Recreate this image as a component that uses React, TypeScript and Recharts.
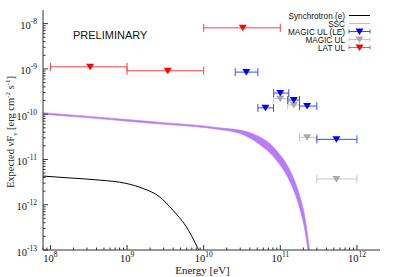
import React from 'react';
import { ComposedChart, XAxis, YAxis, Line, Area, Scatter, ErrorBar, Legend } from 'recharts';

const X_DOMAIN = [8e7, 2e12];
const Y_DOMAIN = [1e-13, 2e-8];

// Synchrotron (e)
const SYN_E = [8e7, 1.6e8, 4.4e8, 9.7e8, 1.6e9, 2.65e9, 3.95e9, 5.9e9, 8e9, 8.6e9, 9.5e9];
const SYN_F = [4.3e-12, 3.95e-12, 3.5e-12, 2.96e-12, 2.3e-12, 1.5e-12, 7.6e-13, 3.3e-13, 1.29e-13, 1.0e-13, 6e-14];

// SSC band (lower / upper edge)
const SSC_E = [8e7, 3e8, 1e9, 3e9, 1e10, 1.6e10, 2.93e10, 3.96e10, 5.35e10, 7.22e10, 9.77e10, 1.19e11, 1.46e11, 1.78e11, 2.07e11, 2.36e11, 2.5e11];
const SSC_LO = [1.0e-10, 8.4e-11, 7.0e-11, 6.0e-11, 5.1e-11, 4.6e-11, 3.77e-11, 3.01e-11, 2.15e-11, 1.43e-11, 7.8e-12, 4.7e-12, 2.3e-12, 8.6e-13, 3.0e-13, 7e-14, 3e-14];
const SSC_HI = [1.08e-10, 9.0e-11, 7.6e-11, 6.5e-11, 5.5e-11, 5.0e-11, 4.46e-11, 3.96e-11, 3.17e-11, 2.27e-11, 1.3e-11, 8.2e-12, 4.15e-12, 1.64e-12, 5.9e-13, 1.29e-13, 6e-14];

// MAGIC UL (LE)
const LE_E = [3.6e10, 6.4e10, 1.0e11, 1.5e11, 2.24e11, 5.4e11];
const LE_ELO = [2.58e10, 5.1e10, 8.2e10, 1.25e11, 1.78e11, 3.0e11];
const LE_EHI = [5.1e10, 8.15e10, 1.29e11, 1.78e11, 3.0e11, 1.0e12];
const LE_F = [8.5e-10, 1.38e-10, 2.92e-10, 2.05e-10, 1.51e-10, 2.78e-11];

// MAGIC UL
const MAGIC_E = [1.0e11, 1.5e11, 2.24e11, 5.4e11];
const MAGIC_ELO = [8.2e10, 1.25e11, 1.78e11, 3.0e11];
const MAGIC_EHI = [1.29e11, 1.78e11, 3.0e11, 1.0e12];
const MAGIC_F = [2.2e-10, 1.6e-10, 3.08e-11, 3.7e-12];

// LAT UL
const LAT_E = [3.3e8, 3.4e9, 3.24e10];
const LAT_ELO = [1e8, 1e9, 1e10];
const LAT_EHI = [1e9, 1e10, 1e11];
const LAT_F = [1.11e-9, 9.1e-10, 8.07e-9];

const X_DECADES = [7, 8, 9, 10, 11, 12];
const Y_DECADES = [-13, -12, -11, -10, -9, -8];

const buildTicks = (decades: number[], lo: number, hi: number) => {
    const out: number[] = [];
    decades.forEach(d => {
        for (let m = 1; m <= 9; m++) {
            const v = m * Math.pow(10, d);
            if (v >= lo * 0.9999 && v < hi * 0.9999) out.push(v);
        }
    });
    return out;
};
const X_TICKS = buildTicks(X_DECADES, X_DOMAIN[0], X_DOMAIN[1]);
const Y_TICKS = buildTicks(Y_DECADES, Y_DOMAIN[0], Y_DOMAIN[1]);

const synData = SYN_E.map((e, i) => ({ e, f: SYN_F[i] }));
const sscData = SSC_E.map((e, i) => ({ e, band: [SSC_LO[i], SSC_HI[i]] }));
const ulData = (E: number[], lo: number[], hi: number[], F: number[]) =>
    E.map((e, i) => ({ e, f: F[i], ex: [e - lo[i], hi[i] - e] }));
const leData = ulData(LE_E, LE_ELO, LE_EHI, LE_F);
const magicData = ulData(MAGIC_E, MAGIC_ELO, MAGIC_EHI, MAGIC_F);
const latData = ulData(LAT_E, LAT_ELO, LAT_EHI, LAT_F);

const SERIF = '"Liberation Serif", "DejaVu Serif", serif';
const SANS = '"Liberation Sans", Arial, sans-serif';
const FRAME = '#333';

const exponentOf = (v: number) => Math.round(Math.log10(v));
const isMajor = (v: number) => Math.abs(Math.log10(v) - Math.round(Math.log10(v))) < 1e-6;

const makeTick = (side: 'bottom' | 'top' | 'left' | 'right', withLabel: boolean) => (props: any) => {
    const { x, y, payload } = props;
    const v = payload.value;
    const major = isMajor(v);
    const len = major ? 5 : 2.5;
    let line;
    if (side === 'bottom') line = <line x1={x} y1={y} x2={x} y2={y - len} stroke={FRAME} />;
    else if (side === 'top') line = <line x1={x} y1={y} x2={x} y2={y + len} stroke={FRAME} />;
    else if (side === 'left') line = <line x1={x} y1={y} x2={x + len} y2={y} stroke={FRAME} />;
    else line = <line x1={x} y1={y} x2={x - len} y2={y} stroke={FRAME} />;
    let label = null;
    if (withLabel && major) {
        const exp = exponentOf(v);
        if (side === 'bottom') {
            label = (
                <text x={x} y={y + 11.5} textAnchor="middle" fontSize={10.5} fontFamily={SERIF} fill="#111">
                    10<tspan dy={-5} fontSize={7.5}>{exp}</tspan>
                </text>
            );
        } else {
            label = (
                <text x={x - 6} y={y + 5.5} textAnchor="end" fontSize={10.5} fontFamily={SERIF} fill="#111">
                    10<tspan dy={-5} fontSize={7.5}>{exp}</tspan>
                </text>
            );
        }
    }
    return (
        <g>
            {line}
            {label}
        </g>
    );
};

const triangle = (color: string) => (props: any) => {
    const { cx, cy } = props;
    if (cx == null || cy == null) return <g />;
    return <polygon points={`${cx - 4},${cy - 3} ${cx + 4},${cy - 3} ${cx},${cy + 3.5}`} fill={color} />;
};

const LEGEND_ITEMS = [
    { name: 'Synchrotron (e)', line: '#000', marker: '' },
    { name: 'SSC', line: '#c9b0ff', marker: '' },
    { name: 'MAGIC UL (LE)', line: '#3050ff', marker: '#0000ff' },
    { name: 'MAGIC UL', line: '#c4c4c4', marker: '#aaaaaa' },
    { name: 'LAT UL', line: '#ff5050', marker: '#ff0000' },
];

const renderLegend = () => (
    <svg width={110} height={46}>
        {LEGEND_ITEMS.map((it, i) => {
            const cy = 5.5 + i * 8;
            return (
                <g key={it.name}>
                    <text x={75} y={cy + 3} textAnchor="end" fontSize={8.2} fontFamily={SANS} fill="#111">{it.name}</text>
                    <line x1={79} x2={100} y1={cy} y2={cy} stroke={it.line} strokeWidth={1} />
                    {it.marker && (
                        <g>
                            <line x1={79} x2={79} y1={cy - 2} y2={cy + 2} stroke={it.line} />
                            <line x1={100} x2={100} y1={cy - 2} y2={cy + 2} stroke={it.line} />
                            <polygon points={`${89.5 - 4},${cy - 3} ${89.5 + 4},${cy - 3} ${89.5},${cy + 3.5}`} fill={it.marker} />
                        </g>
                    )}
                </g>
            );
        })}
    </svg>
);

const XTitle = (props: any) => {
    const { viewBox } = props;
    return (
        <text x={viewBox.x + viewBox.width / 2 - 9} y={viewBox.y + 24} textAnchor="middle" fontSize={11} fontFamily={SERIF} fill="#222">
            Energy [eV]
        </text>
    );
};

const YTitle = () => (
    <text transform="translate(14,132) rotate(-90)" textAnchor="middle" fontSize={10.5} fontFamily={SERIF} fill="#222">
        Expected νF<tspan dy={3} fontSize={7}>ν</tspan>
        <tspan dy={-3}> [erg cm</tspan>
        <tspan dy={-4} fontSize={7}>-2</tspan>
        <tspan dy={4}> s</tspan>
        <tspan dy={-4} fontSize={7}>-1</tspan>
        <tspan dy={4}>]</tspan>
    </text>
);

export default function App() {
    return (
        <div style={{ position: 'absolute', left: 0, top: 0, width: 395, height: 277, background: '#fff' }}>
            <ComposedChart width={395} height={277} margin={{ top: 10, right: 15, bottom: 0, left: 0 }}>
                <XAxis
                    dataKey="e" type="number" scale="log" domain={X_DOMAIN} allowDataOverflow
                    ticks={X_TICKS} interval={0} height={27} tickSize={0} tickMargin={0}
                    axisLine={{ stroke: FRAME }} tickLine={false} tick={makeTick('bottom', true)}
                    label={<XTitle />}
                />
                <XAxis
                    xAxisId="top" orientation="top" dataKey="e" type="number" scale="log" domain={X_DOMAIN} allowDataOverflow
                    ticks={X_TICKS} interval={0} height={0} tickSize={0} tickMargin={0}
                    axisLine={{ stroke: FRAME }} tickLine={false} tick={makeTick('top', false)}
                />
                <YAxis
                    dataKey="f" type="number" scale="log" domain={Y_DOMAIN} allowDataOverflow
                    ticks={Y_TICKS} interval={0} width={43} tickSize={0} tickMargin={0}
                    axisLine={{ stroke: FRAME }} tickLine={false} tick={makeTick('left', true)}
                    label={<YTitle />}
                />
                <YAxis
                    yAxisId="right" orientation="right" dataKey="f" type="number" scale="log" domain={Y_DOMAIN} allowDataOverflow
                    ticks={Y_TICKS} interval={0} width={0} tickSize={0} tickMargin={0}
                    axisLine={{ stroke: FRAME }} tickLine={false} tick={makeTick('right', false)}
                />
                <Legend layout="vertical" align="center" verticalAlign="middle"
                    wrapperStyle={{ left: 270, top: 10, width: 110, height: 46 }} content={renderLegend} />
                <Scatter xAxisId="top" yAxisId="right" data={[]} isAnimationActive={false} legendType="none" />
                <Area data={sscData} dataKey="band" type="monotone" stroke="#b97cf8" strokeWidth={0.6}
                    fill="#b97cf8" fillOpacity={1} isAnimationActive={false} dot={false} activeDot={false} />
                <Line data={synData} dataKey="f" type="monotone" stroke="#000" strokeWidth={1}
                    dot={false} activeDot={false} isAnimationActive={false} />
                <Scatter data={latData} shape={triangle('#ff0000')} isAnimationActive={false}>
                    <ErrorBar dataKey="ex" direction="x" width={4} stroke="#ff4040" strokeWidth={1} isAnimationActive={false} />
                </Scatter>
                <Scatter data={magicData} shape={triangle('#aaaaaa')} isAnimationActive={false}>
                    <ErrorBar dataKey="ex" direction="x" width={4} stroke="#c4c4c4" strokeWidth={1} isAnimationActive={false} />
                </Scatter>
                <Scatter data={leData} shape={triangle('#0000ff')} isAnimationActive={false}>
                    <ErrorBar dataKey="ex" direction="x" width={4} stroke="#3050ff" strokeWidth={1} isAnimationActive={false} />
                </Scatter>
            </ComposedChart>
            <div style={{ position: 'absolute', left: 73, top: 29, fontFamily: SANS, fontSize: 11, color: '#111', lineHeight: '13px' }}>
                PRELIMINARY
            </div>
        </div>
    );
}
